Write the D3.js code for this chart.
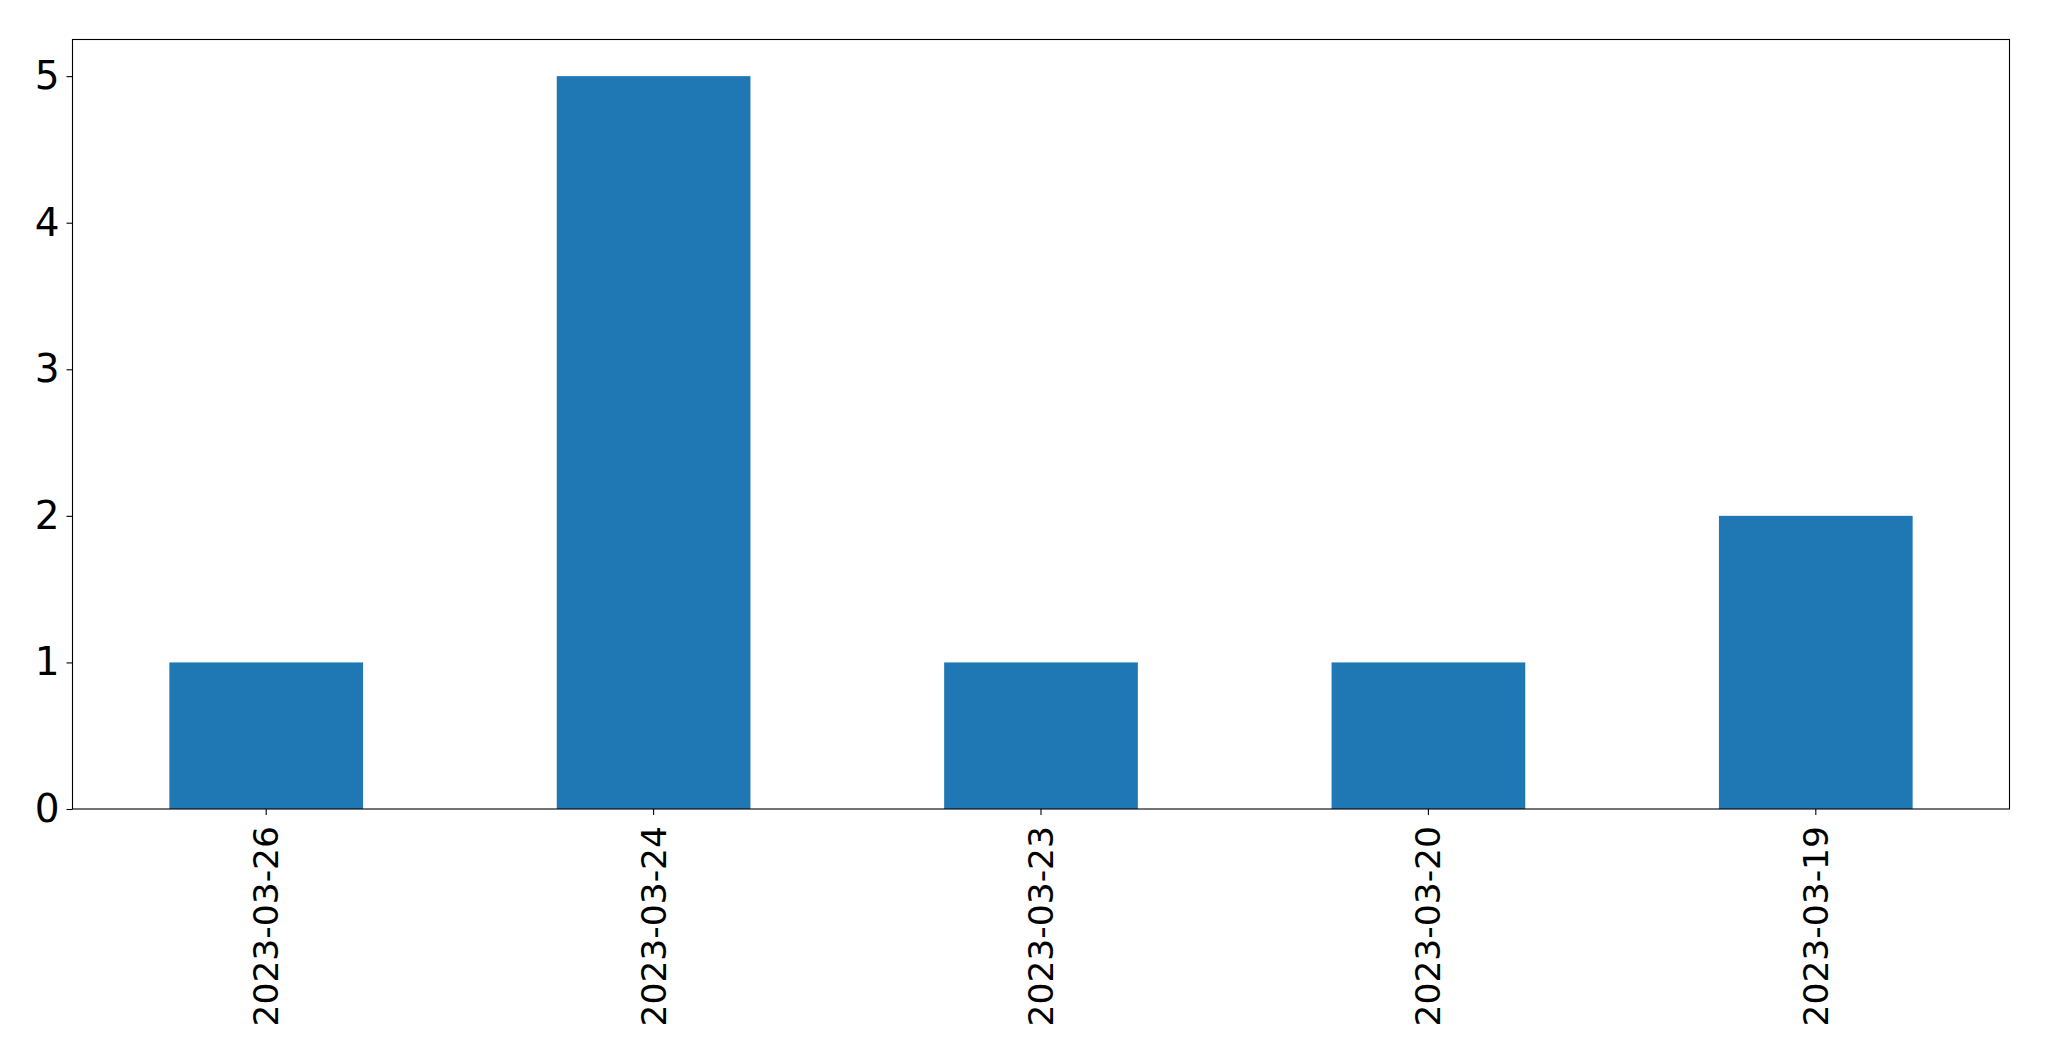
<!DOCTYPE html>
<html><head><meta charset="utf-8">
<script src="https://cdn.jsdelivr.net/npm/d3@7"></script>
<style>html,body{margin:0;padding:0;background:#fff;}svg{display:block;}</style>
</head><body>
<script>
const categories = ["2023-03-26","2023-03-24","2023-03-23","2023-03-20","2023-03-19"];
const values = [1,5,1,1,2];
const yTicks = [0,1,2,3,4,5];

const W = 2049, H = 1061;
const m = {left:72.5, top:39.5, right:W-2009.5, bottom:H-809};
const svg = d3.select("body").append("svg").attr("width",W).attr("height",H);
const x = d3.scaleBand().domain(categories).range([m.left, W-m.right]).paddingInner(0.5).paddingOuter(0.25);
const y = d3.scaleLinear().domain([0,5.25]).range([H-m.bottom, m.top]);

svg.append("g").selectAll("rect").data(values).join("rect")
  .attr("x",(d,i)=>x(categories[i])).attr("width",x.bandwidth())
  .attr("y",d=>y(d)).attr("height",d=>y(0)-y(d)).attr("fill","#1f77b4");

const font = "'DejaVu Sans', sans-serif";
const ya = svg.append("g").attr("transform",`translate(${m.left},0)`)
  .call(d3.axisLeft(y).tickValues(yTicks).tickFormat(d3.format("d")).tickSize(6).tickPadding(7));
ya.select(".domain").remove();
ya.selectAll("text").attr("font-size","39px").attr("font-family",font).attr("fill","#000");
ya.selectAll("line").attr("stroke","#000").attr("stroke-width",1.1);

const xa = svg.append("g").attr("transform",`translate(0,${H-m.bottom})`)
  .call(d3.axisBottom(x).tickSize(6).tickPadding(0));
xa.select(".domain").remove();
xa.selectAll("line").attr("stroke","#000").attr("stroke-width",1.1);
xa.selectAll("text").attr("font-size","34.5px").attr("font-family",font).attr("fill","#000")
  .attr("transform","rotate(-90)").attr("text-anchor","end").attr("dy","0.35em")
  .attr("x",-17).attr("y",0);

svg.append("rect").attr("x",m.left).attr("y",m.top)
  .attr("width",W-m.right-m.left).attr("height",H-m.bottom-m.top)
  .attr("fill","none").attr("stroke","#000").attr("stroke-width",1.1);
</script>
</body></html>
